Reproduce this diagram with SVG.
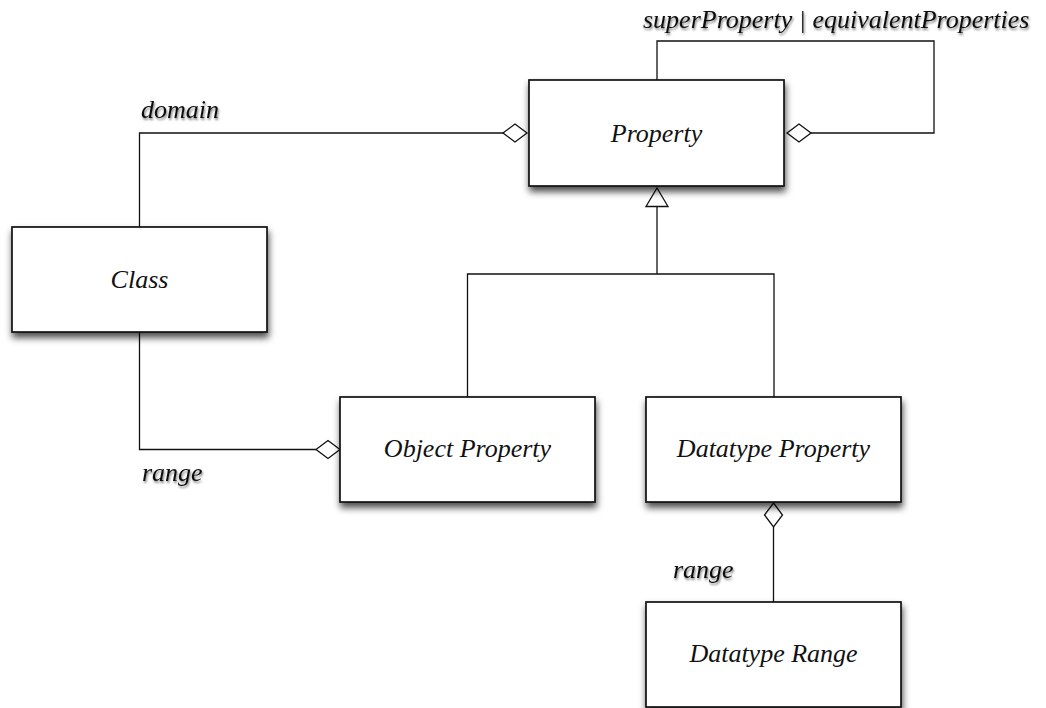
<svg xmlns="http://www.w3.org/2000/svg" width="1046" height="708" viewBox="0 0 1046 708">
  <style>
    .box { fill: #ffffff; stroke: #111111; stroke-width: 1.7; filter: url(#boxShadow); }
    .name { font-family: "Liberation Serif", "Times New Roman", serif; font-style: italic; font-size: 26px; fill: #111111; text-anchor: middle; }
    .role { font-family: "Liberation Serif", "Times New Roman", serif; font-style: italic; font-size: 26px; fill: #111111; filter: url(#textShadow); }
    .wire { fill: none; stroke: #111111; stroke-width: 1.3; }
    .agg { fill: #ffffff; stroke: #111111; stroke-width: 1.3; stroke-linejoin: miter; }
  </style>
  <defs>
    <filter id="boxShadow" x="-10%" y="-10%" width="125%" height="140%">
      <feDropShadow dx="1" dy="5" stdDeviation="3.5" flood-color="#000000" flood-opacity="0.7"/>
    </filter>
    <filter id="textShadow" x="-10%" y="-20%" width="120%" height="150%">
      <feDropShadow dx="1" dy="2" stdDeviation="1.2" flood-color="#000000" flood-opacity="0.5"/>
    </filter>
  </defs>
  <rect width="1046" height="708" fill="#ffffff"/>

  <!-- connectors -->
  <g id="connectors">
    <!-- domain: Class -> Property -->
    <path class="wire" d="M139.5,227 V133 H503"/>
    <polygon class="agg" points="503,133 515,124 527,133 515,142"/>
    <!-- superProperty / equivalentProperties self loop -->
    <path class="wire" d="M657,80 V41 H934 V133 H811"/>
    <polygon class="agg" points="787,133 799,124 811,133 799,142"/>
    <!-- generalization of Object/Datatype Property to Property -->
    <path class="wire" d="M467.5,397 V274 H774 V397"/>
    <path class="wire" d="M657,274 V206.5"/>
    <polygon class="agg" points="657,188 668,206.5 646,206.5"/>
    <!-- range: Class -> Object Property -->
    <path class="wire" d="M139.5,332 V449.5 H316"/>
    <polygon class="agg" points="316,449.5 328,440.5 340,449.5 328,458.5"/>
    <!-- range: Datatype Property -> Datatype Range -->
    <path class="wire" d="M773.5,527 V602"/>
    <polygon class="agg" points="773.5,503 782.5,515 773.5,527 764.5,515"/>
  </g>

  <!-- association labels -->
  <g id="labels">
    <text class="role" x="643" y="28">superProperty | equivalentProperties</text>
    <text class="role" x="141" y="118">domain</text>
    <text class="role" x="142" y="481">range</text>
    <text class="role" x="673" y="578">range</text>
  </g>

  <g id="property">
    <rect class="box" x="529" y="80" width="255" height="106"/>
    <text class="name" x="656.5" y="142">Property</text>
  </g>
  <g id="class">
    <rect class="box" x="12" y="227" width="255" height="105"/>
    <text class="name" x="139.5" y="288">Class</text>
  </g>
  <g id="object-property">
    <rect class="box" x="340" y="397" width="255" height="105"/>
    <text class="name" x="467.5" y="457">Object Property</text>
  </g>
  <g id="datatype-property">
    <rect class="box" x="646" y="397" width="255" height="105"/>
    <text class="name" x="773.5" y="457">Datatype Property</text>
  </g>
  <g id="datatype-range">
    <rect class="box" x="646" y="602" width="255" height="105"/>
    <text class="name" x="773.5" y="662">Datatype Range</text>
  </g>
</svg>
